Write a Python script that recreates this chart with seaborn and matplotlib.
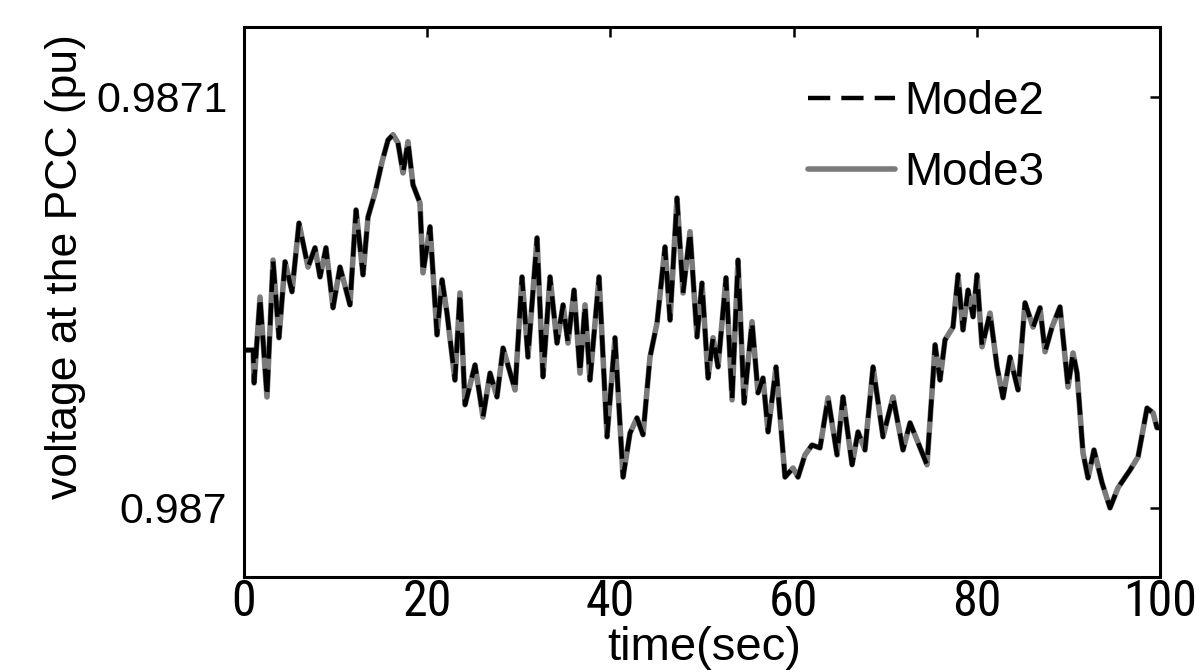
import matplotlib
matplotlib.use("Agg")
import matplotlib.pyplot as plt
from matplotlib import font_manager
import seaborn as sns
import pandas as pd

# time axis (s) and PCC voltage (pu) for the two operating modes
time_s = [0.0, 1.0, 1.1, 1.75, 2.51, 3.17, 3.82, 4.48, 5.24, 6.0, 6.99, 7.75, 8.3, 8.95,
          9.72, 10.48, 11.57, 12.23, 12.99, 13.54, 14.3, 15.07, 15.72, 16.27, 16.81, 17.36,
          17.9, 18.45, 19.21, 19.54, 20.31, 21.07, 21.62, 22.16, 23.03, 23.58, 24.13, 25.22,
          26.09, 26.86, 27.62, 28.28, 29.59, 30.35, 31.0, 31.99, 32.64, 33.41, 34.17, 34.83,
          35.37, 36.03, 36.68, 37.23, 37.77, 38.76, 39.63, 40.5, 41.38, 42.14, 42.9, 43.56,
          44.32, 45.09, 45.96, 46.51, 47.27, 47.93, 48.69, 49.45, 50.0, 50.66, 51.2, 51.75,
          52.62, 53.28, 53.93, 54.59, 55.46, 56.11, 56.66, 57.21, 58.08, 59.06, 59.93, 60.48,
          61.24, 62.01, 62.88, 63.76, 64.74, 65.39, 66.38, 67.03, 67.79, 68.67, 69.76, 70.85,
          71.94, 72.71, 74.56, 75.22, 75.44, 75.98, 76.53, 77.4, 77.95, 78.49, 79.04, 79.59,
          80.02, 80.57, 81.44, 82.21, 82.86, 83.62, 84.5, 85.26, 86.14, 86.9, 87.45, 88.21,
          89.08, 89.96, 90.5, 90.94, 91.59, 92.14, 92.79, 93.67, 94.54, 95.41, 96.72, 97.6,
          98.58, 99.24, 99.67, 100.0]

v_mode2 = [0.9870384, 0.9870384, 0.9870304, 0.9870513, 0.9870270, 0.9870603, 0.9870414,
           0.9870599, 0.9870526, 0.9870693, 0.9870586, 0.9870633, 0.9870562, 0.9870633,
           0.9870487, 0.9870586, 0.9870494, 0.9870725, 0.9870567, 0.9870708, 0.9870766,
           0.9870842, 0.9870895, 0.9870908, 0.9870888, 0.9870815, 0.9870891, 0.9870786,
           0.9870742, 0.9870572, 0.9870684, 0.9870421, 0.9870555, 0.9870474, 0.9870311,
           0.9870523, 0.9870251, 0.9870348, 0.9870221, 0.9870328, 0.9870270, 0.9870389,
           0.9870287, 0.9870562, 0.9870367, 0.9870657, 0.9870319, 0.9870562, 0.9870401,
           0.9870494, 0.9870401, 0.9870530, 0.9870328, 0.9870494, 0.9870311, 0.9870562,
           0.9870173, 0.9870414, 0.9870075, 0.9870182, 0.9870219, 0.9870178, 0.9870367,
           0.9870450, 0.9870635, 0.9870457, 0.9870754, 0.9870523, 0.9870672, 0.9870416,
           0.9870547, 0.9870316, 0.9870414, 0.9870343, 0.9870560, 0.9870263, 0.9870603,
           0.9870255, 0.9870453, 0.9870280, 0.9870316, 0.9870185, 0.9870343, 0.9870075,
           0.9870097, 0.9870075, 0.9870129, 0.9870153, 0.9870146, 0.9870268, 0.9870129,
           0.9870270, 0.9870105, 0.9870185, 0.9870141, 0.9870343, 0.9870173, 0.9870270,
           0.9870141, 0.9870207, 0.9870105, 0.9870319, 0.9870397, 0.9870311, 0.9870409,
           0.9870440, 0.9870567, 0.9870433, 0.9870530, 0.9870465, 0.9870567, 0.9870392,
           0.9870474, 0.9870343, 0.9870268, 0.9870367, 0.9870287, 0.9870499, 0.9870440,
           0.9870487, 0.9870380, 0.9870440, 0.9870489, 0.9870294, 0.9870377, 0.9870328,
           0.9870134, 0.9870073, 0.9870141, 0.9870061, 0.9870000, 0.9870049, 0.9870092,
           0.9870124, 0.9870243, 0.9870231, 0.9870195, 0.9870195]

# Mode 3 tracks Mode 2 to within the line width over the whole run
v_mode3 = list(v_mode2)

x_ticks = [0, 20, 40, 60, 80, 100]
y_ticks = [0.987, 0.9871]
y_tick_labels = ["0.987", "0.9871"]

black_rc = {"text.color": "black", "axes.labelcolor": "black", "xtick.color": "black",
            "ytick.color": "black", "axes.edgecolor": "black"}
sns.set_theme(style="white", rc=black_rc)
plt.rcParams["font.family"] = ["Liberation Sans", "DejaVu Sans"]

# narrow face for the time-axis tick numbers, if one is available
installed = {f.name for f in font_manager.fontManager.ttflist}
narrow_pref = ["Liberation Sans Narrow", "Arial Narrow", "Roboto Condensed",
               "Noto Sans Condensed", "Open Sans Condensed"]
narrow = next((n for n in narrow_pref if n in installed), None)
if narrow is None:
    extra = sorted(n for n in installed if "Narrow" in n or "Condensed" in n)
    narrow = extra[0] if extra else None
if narrow:
    xfont, xtick_size = [narrow, "DejaVu Sans"], 36
else:
    xfont, xtick_size = ["Liberation Sans", "DejaVu Sans"], 30

df2 = pd.DataFrame({"t": time_s, "v": v_mode2})
df3 = pd.DataFrame({"t": time_s, "v": v_mode3})

fig = plt.figure(figsize=(11.99, 6.72), dpi=100)
ax = fig.add_axes([0.2035, 0.1414, 0.7640, 0.8184])

sns.lineplot(data=df3, x="t", y="v", ax=ax, color="#7a7a7a", linewidth=4.8,
             label="Mode3", zorder=2)
sns.lineplot(data=df2, x="t", y="v", ax=ax, color="black", linewidth=3.2,
             linestyle=(0, (5, 2.5)), label="Mode2", zorder=3)

ax.set_xlim(0, 100)
ax.set_ylim(0.9869832, 0.987117)
ax.set_xticks(x_ticks)
ax.set_xticklabels([str(x) for x in x_ticks], fontsize=xtick_size, family=xfont)
ax.set_yticks(y_ticks)
ax.set_yticklabels(y_tick_labels, fontsize=31)

ax.tick_params(axis="both", direction="in", length=7, width=1.8, top=True, right=True,
               colors="black")
ax.tick_params(axis="x", pad=1)
ax.tick_params(axis="y", pad=12)

for s in ax.spines.values():
    s.set_visible(True)
    s.set_color("black")
    s.set_linewidth(2.2)

ax.set_xlabel("time(sec)", fontsize=34)
ax.xaxis.set_label_coords(0.502, -0.170)
ax.xaxis.label.set_va("bottom")
ax.set_ylabel("voltage at the PCC (pu)", fontsize=32)
ax.yaxis.set_label_coords(-0.172, 0.564)

handles, labels = ax.get_legend_handles_labels()
order = [labels.index("Mode2"), labels.index("Mode3")]
for h in handles:
    h.set_linewidth(3.2 if h.get_label() == "Mode2" else 4.0)
leg = ax.legend([handles[i] for i in order], [labels[i] for i in order],
                loc="upper left", bbox_to_anchor=(0.596, 0.937), frameon=False,
                fontsize=33, handlelength=1.9, handletextpad=0.2, labelspacing=0.6,
                borderaxespad=0)

fig.savefig("out.png", dpi=100)
